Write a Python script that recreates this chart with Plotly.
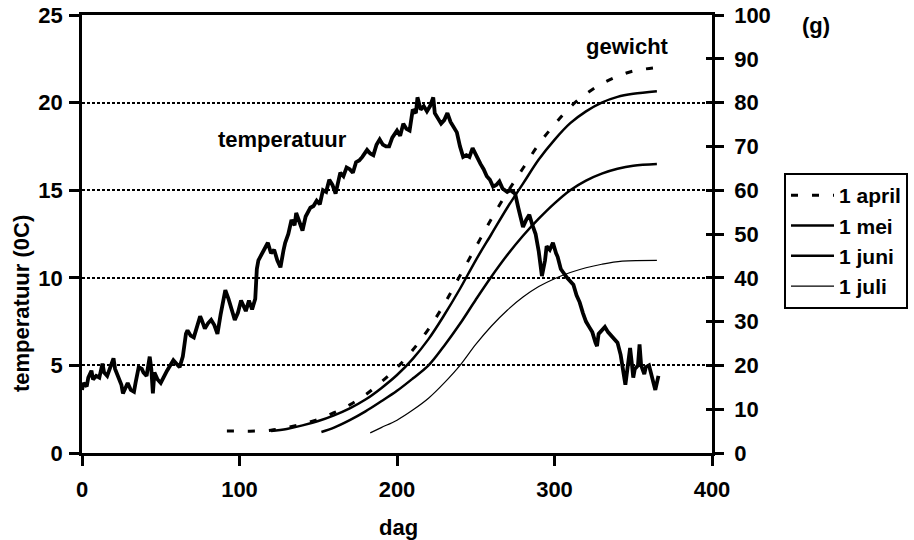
import plotly.graph_objects as go

# ---------------- data ----------------
temp_day = [0, 1, 3, 4, 6, 7, 9, 11, 13, 14, 16, 18, 20, 21, 23, 25, 26, 28, 29, 31, 33, 34, 36, 38, 39,
            41, 43, 44, 45, 46, 48, 50, 52, 54, 56, 58, 60, 62, 64, 66, 67, 69, 71, 73, 75, 76, 78, 80,
            82, 84, 86, 88, 90, 91, 93, 95, 97, 99, 101, 103, 104, 106, 108, 110, 111, 112, 114, 116,
            118, 120, 122, 124, 126, 128, 129, 131, 133, 135, 136, 138, 140, 142, 145, 147, 149, 151,
            153, 155, 157, 159, 161, 163, 164, 166, 168, 170, 172, 174, 176, 178, 181, 183, 185, 187,
            189, 191, 193, 195, 197, 200, 202, 204, 206, 208, 210, 212, 213, 215, 217, 219, 221, 223,
            224, 226, 228, 230, 232, 234, 236, 238, 240, 242, 244, 246, 248, 250, 253, 255, 257, 259,
            261, 263, 265, 267, 270, 272, 275, 277, 279, 280, 282, 284, 286, 288, 290, 292, 294, 295,
            297, 299, 301, 302, 304, 306, 308, 310, 312, 314, 316, 318, 320, 322, 324, 326, 327, 328,
            330, 332, 334, 336, 338, 340, 342, 343, 344, 345, 346, 347, 348, 349, 350, 351, 353, 354,
            355, 357, 358, 360, 361, 362, 363, 364, 365, 366]
temp_val = [3.6, 4.0, 3.8, 4.3, 4.7, 4.2, 4.4, 4.3, 5.1, 4.6, 4.4, 4.9, 5.4, 4.8, 4.4, 3.9, 3.4, 3.8, 4.0,
            3.6, 3.5, 4.0, 4.9, 4.8, 4.6, 4.4, 5.5, 4.8, 3.4, 4.6, 4.2, 4.0, 4.4, 4.7, 5.0, 5.3, 5.1, 4.9,
            5.5, 6.8, 7.0, 6.7, 6.6, 7.2, 7.8, 7.6, 7.1, 7.4, 7.6, 7.3, 6.8, 7.9, 9.0, 9.3, 8.8, 8.2, 7.6,
            8.0, 8.7, 8.3, 8.1, 8.7, 8.2, 8.8, 10.5, 11.0, 11.3, 11.6, 12.0, 11.4, 11.6, 11.0, 10.6,
            11.6, 12.0, 12.5, 13.3, 13.0, 13.7, 13.2, 12.7, 13.5, 14.0, 14.1, 14.4, 14.2, 15.0, 14.9,
            15.6, 15.3, 14.8, 15.6, 16.0, 15.8, 16.3, 16.2, 16.0, 16.6, 16.7, 16.9, 17.3, 17.1, 17.0,
            17.6, 17.9, 17.6, 17.5, 17.5, 18.0, 18.4, 18.1, 18.8, 18.5, 18.4, 19.6, 19.4, 20.3, 19.6,
            19.8, 19.5, 19.8, 20.3, 19.4, 19.1, 18.8, 19.0, 19.4, 18.9, 18.6, 18.3, 17.5, 16.9, 17.0,
            16.9, 17.4, 17.0, 16.5, 16.2, 15.8, 15.6, 15.2, 15.3, 15.5, 15.1, 14.9, 15.0, 14.8, 14.0,
            13.3, 12.9, 13.3, 13.6, 13.0, 12.5, 11.5, 10.1, 11.0, 11.8, 11.6, 12.0, 11.4, 11.2, 10.5,
            10.2, 10.0, 9.8, 9.6, 9.0, 8.6, 8.0, 7.5, 7.2, 6.9, 6.3, 6.1, 6.8, 7.0, 7.2, 6.9, 6.7, 6.5,
            6.3, 5.6, 5.0, 4.2, 3.9, 4.6, 5.5, 6.0, 5.2, 4.3, 4.8, 5.0, 6.2, 5.0, 4.5, 4.9, 5.0, 4.6,
            4.3, 4.0, 3.6, 4.0, 4.4]

april_day = [92, 100, 110, 120, 130, 140, 150, 160, 170, 180, 190, 200, 210, 220, 230, 240, 250, 260,
             270, 280, 290, 300, 310, 320, 330, 340, 350, 365]
april_g = [5.0, 5.0, 5.0, 5.2, 5.8, 6.6, 7.7, 9.2, 11.0, 13.3, 16.2, 19.5, 23.5, 28.3, 34.0, 40.5, 47.0,
           53.5, 59.5, 65.0, 70.5, 75.0, 79.0, 82.0, 84.3, 86.0, 87.2, 88.0]

mei_day = [120, 130, 140, 150, 160, 170, 180, 190, 200, 210, 220, 230, 240, 250, 260, 270, 280, 290,
           300, 310, 320, 330, 340, 350, 365]
mei_g = [5.0, 5.5, 6.3, 7.3, 8.6, 10.2, 12.2, 14.8, 17.8, 21.5, 26.0, 31.5, 37.5, 44.0, 50.0, 56.0,
         61.5, 67.0, 71.5, 75.3, 78.0, 80.0, 81.3, 82.0, 82.6]

juni_day = [152, 160, 170, 180, 190, 200, 210, 220, 230, 240, 250, 260, 270, 280, 290, 300, 310, 320,
            330, 340, 350, 365]
juni_g = [4.8, 5.8, 7.5, 9.5, 11.8, 14.2, 17.0, 20.0, 24.5, 29.5, 35.0, 40.3, 45.2, 49.6, 53.5, 57.0,
          60.0, 62.2, 63.8, 64.9, 65.6, 66.0]

juli_day = [183, 190, 200, 210, 220, 230, 240, 250, 260, 270, 280, 290, 300, 310, 320, 330, 343, 365]
juli_g = [4.6, 5.8, 7.5, 9.8, 12.5, 16.0, 20.0, 24.8, 29.0, 32.6, 35.6, 38.0, 39.8, 41.2, 42.3, 43.1,
          43.8, 44.0]

x_ticks = [0, 100, 200, 300, 400]
y_ticks = [0, 5, 10, 15, 20, 25]
y2_ticks = [0, 10, 20, 30, 40, 50, 60, 70, 80, 90, 100]

# ---------------- figure ----------------
FONT = "Liberation Sans"
FS = 22
W, H = 914, 540
fig = go.Figure()

fig.add_trace(go.Scatter(x=temp_day, y=temp_val, mode="lines", name="temperatuur",
                         line=dict(color="black", width=3.8), showlegend=False, yaxis="y"))

series = [
    ("1 april", april_day, april_g, dict(color="black", width=3, dash="7px,14px")),
    ("1 mei", mei_day, mei_g, dict(color="black", width=2.5)),
    ("1 juni", juni_day, juni_g, dict(color="black", width=2.5)),
    ("1 juli", juli_day, juli_g, dict(color="black", width=1.2)),
]
for name, xs, ys, ln in series:
    fig.add_trace(go.Scatter(x=xs, y=ys, mode="lines", name=name, line=ln, yaxis="y2",
                             line_shape="spline"))

# helper trace for inner tick marks on the right axis
fig.add_trace(go.Scatter(x=[None], y=[None], yaxis="y3", showlegend=False, hoverinfo="skip"))

tickfont = dict(family=FONT, size=FS, color="black", weight="bold")

fig.update_layout(
    width=W, height=H,
    margin=dict(l=82, r=202, t=15, b=87, autoexpand=False),
    paper_bgcolor="white", plot_bgcolor="white",
    font=dict(family=FONT, size=FS, color="black", weight="bold"),
    xaxis=dict(range=[0, 400], tickvals=x_ticks, ticks="outside", ticklen=10, tickwidth=2.5,
               tickcolor="black", showline=True, linewidth=2.5, linecolor="black", mirror=True,
               showgrid=False, zeroline=False, tickfont=tickfont, ticklabelstandoff=5,
               automargin=False, ticklabeloverflow="allow"),
    yaxis=dict(range=[0, 25], tickvals=y_ticks, ticks="outside", ticklen=10, tickwidth=2.5,
               tickcolor="black", showline=True, linewidth=2.5, linecolor="black",
               showgrid=True, gridcolor="black", gridwidth=2, griddash="3px,2px",
               zeroline=False, tickfont=tickfont, ticklabelstandoff=2, automargin=False,
               ticklabeloverflow="allow"),
    yaxis2=dict(range=[0, 100], tickvals=y2_ticks, overlaying="y", side="right", anchor="x",
                ticks="outside", ticklen=9, tickwidth=2.5, tickcolor="black",
                showline=True, linewidth=2.5, linecolor="black", showgrid=False, zeroline=False,
                tickfont=tickfont, ticklabelstandoff=6, automargin=False,
                ticklabeloverflow="allow"),
    yaxis3=dict(range=[0, 100], tickvals=y2_ticks, overlaying="y", side="right", anchor="x",
                ticks="inside", ticklen=6, tickwidth=2.5, tickcolor="black",
                showticklabels=False, showline=False, showgrid=False, zeroline=False,
                automargin=False),
    legend=dict(x=(784 - 82) / 630, y=(453 - 173) / 438, xanchor="left", yanchor="top",
                bordercolor="black", borderwidth=2, bgcolor="white",
                font=dict(family=FONT, size=21, color="black", weight="bold"),
                tracegroupgap=0, itemwidth=43),
    showlegend=True,
)

annots = [
    dict(text="temperatuur", x=127, y=17.9, xref="x", yref="y", showarrow=False),
    dict(text="gewicht", x=346.6, y=23.2, xref="x", yref="y", showarrow=False),
    dict(text="(g)", x=(816 - 82) / 630, y=(453 - 25) / 438, xref="paper", yref="paper", showarrow=False),
    dict(text="dag", x=(398 - 82) / 630, y=(453 - 527) / 438, xref="paper", yref="paper", showarrow=False),
    dict(text="temperatuur (0C)", x=(21 - 82) / 630, y=(453 - 304) / 438, xref="paper", yref="paper",
         showarrow=False, textangle=-90),
]
for a in annots:
    a["font"] = dict(family=FONT, size=FS, color="black", weight="bold")
    a["xanchor"] = "center"
    a["yanchor"] = "middle"
    fig.add_annotation(**a)

# remove the default 8px page margin so the figure fills the window exactly
fig.write_html("out.html",
               config={"displayModeBar": False},
               post_script="document.body.style.margin='0px';document.body.style.overflow='hidden';")
